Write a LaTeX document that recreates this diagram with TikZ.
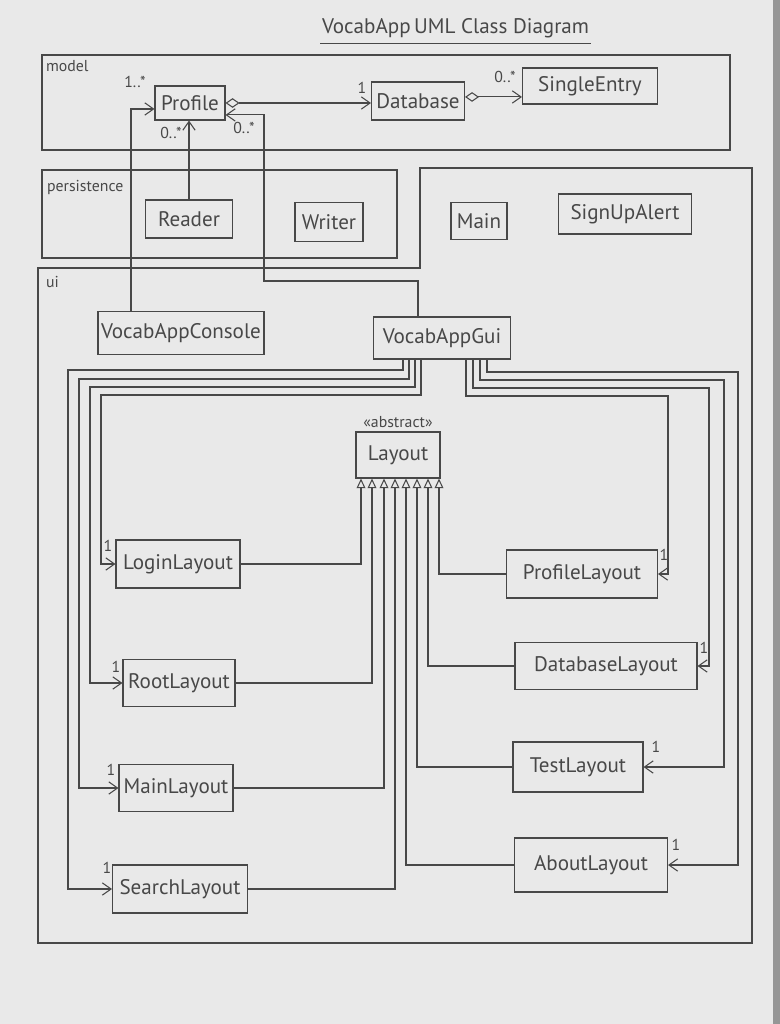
\documentclass[tikz,border=0pt]{standalone}
\usepackage{fontspec}
\setmainfont{PT Sans}
\usetikzlibrary{arrows.meta}
\definecolor{paper}{RGB}{233,233,233}
\definecolor{pencil}{RGB}{72,72,72}
\definecolor{tabletop}{RGB}{150,150,150}
\begin{document}
\begin{tikzpicture}[x=0.02cm,y=-0.02cm,
  pen/.style={draw=pencil, line width=0.6pt},
  cls/.style={pen, inner sep=1pt, text=pencil, font=\fontsize{12}{14}\selectfont},
  ttl/.style={text=pencil, font=\fontsize{12}{14}\selectfont, inner sep=1pt, anchor=west},
  pkglabel/.style={text=pencil, font=\fontsize{9}{10}\selectfont, anchor=north west, inner sep=1pt},
  mult/.style={text=pencil, font=\fontsize{9}{10}\selectfont, inner sep=1pt},
  assoc/.style={pen, -{Straight Barb[length=5pt,width=7pt]}},
  aggr/.style={pen, {Diamond[open,length=8pt,width=5.5pt]}-{Straight Barb[length=5pt,width=7pt]}},
  gen/.style={pen, -{Triangle[open,length=5.5pt,width=5pt]}},
]
% sheet of paper on the table
\fill[paper] (0,0) rectangle (780,1024);
\fill[tabletop] (773,0) rectangle (780,1024);
\useasboundingbox (0,0) rectangle (780,1024);

% title
\node[ttl] (ttlA) at (320,28) {VocabApp};
\node[ttl] (ttlB) at (412,28) {UML Class Diagram};
\draw[pen] ([yshift=-2pt]ttlA.south west) -- ([yshift=-2pt]ttlA.south east);
\draw[pen] ([yshift=-2pt]ttlB.south west) -- ([yshift=-2pt]ttlB.south east);

% packages
\draw[pen] (42,55) rectangle (730,150);
\node[pkglabel] (lblmodel) at (44,58) {model};
\draw[pen] (42,170) rectangle (397,258);
\node[pkglabel] (lblpers) at (45,178) {persistence};
\draw[pen] (38,268) -- (420,268) -- (420,168) -- (752,168) -- (752,943) -- (38,943) -- cycle;
\node[pkglabel] (lblui) at (44,274) {ui};

% model
\node[cls, minimum width=1.4cm, minimum height=0.68cm] (profile) at (190,103) {Profile};
\node[cls, minimum width=1.86cm, minimum height=0.76cm] (database) at (418,101) {Database};
\node[cls, minimum width=2.7cm, minimum height=0.72cm] (singleentry) at (590,86) {SingleEntry};

% persistence
\node[cls, minimum width=1.74cm, minimum height=0.76cm] (reader) at (189,219) {Reader};
\node[cls, minimum width=1.36cm, minimum height=0.78cm] (writer) at (329,222) {Writer};

% ui
\node[cls, minimum width=1.12cm, minimum height=0.74cm] (mainc) at (479,221) {Main};
\node[cls, minimum width=2.66cm, minimum height=0.8cm] (signup) at (625,214) {SignUpAlert};
\node[cls, minimum width=3.32cm, minimum height=0.86cm] (console) at (181,333) {VocabAppConsole};
\node[cls, minimum width=2.74cm, minimum height=0.84cm] (gui) at (442,338) {VocabAppGui};
\node[cls, minimum width=1.68cm, minimum height=0.92cm] (layout) at (398,455) {Layout};
\node[mult, anchor=south] (stereo) at ([yshift=1pt]layout.north) {«abstract»};

\node[cls, minimum width=2.48cm, minimum height=0.96cm] (login) at (178,564) {LoginLayout};
\node[cls, minimum width=2.24cm, minimum height=0.94cm] (root) at (179,683) {RootLayout};
\node[cls, minimum width=2.28cm, minimum height=0.94cm] (mainl) at (176,788) {MainLayout};
\node[cls, minimum width=2.7cm, minimum height=0.96cm] (search) at (180,889) {SearchLayout};
\node[cls, minimum width=3.02cm, minimum height=0.96cm] (profilel) at (582,574) {ProfileLayout};
\node[cls, minimum width=3.64cm, minimum height=0.94cm] (dbl) at (606,666) {DatabaseLayout};
\node[cls, minimum width=2.6cm, minimum height=1.0cm] (testl) at (578,767) {TestLayout};
\node[cls, minimum width=3.06cm, minimum height=1.08cm] (aboutl) at (591,865) {AboutLayout};

% model associations
\draw[assoc] (131,0 |- console.north) |- ([yshift=-3.4pt]profile.west);
\draw[assoc] (reader.north) -- (reader.north |- profile.south);
\draw[assoc] (418,0 |- gui.north) -- (418,281) -- (264,281) |- ([yshift=-6.8pt]profile.east);
\draw[aggr] (profile.east) -- (profile.east -| database.west);
\coordinate (dbout) at ([yshift=2.3pt]database.east);
\draw[aggr] (dbout) -- (dbout -| singleentry.west);

\node[mult] (m1) at (135,82) {1..*};
\node[mult] (m2) at (171,133) {0..*};
\node[mult] (m3) at (244,128) {0..*};
\node[mult] (m4) at (362,88) {1};
\node[mult] (m5) at (505,77) {0..*};

% generalisations to Layout
\draw[gen] (login.east) -| (361,0 |- layout.south);
\draw[gen] (root.east) -| (372,0 |- layout.south);
\draw[gen] (mainl.east) -| (384,0 |- layout.south);
\draw[gen] (search.east) -| (395,0 |- layout.south);
\draw[gen] (aboutl.west) -| (406,0 |- layout.south);
\draw[gen] (testl.west) -| (417,0 |- layout.south);
\draw[gen] (dbl.west) -| (428,0 |- layout.south);
\draw[gen] (profilel.west) -| (439,0 |- layout.south);

% VocabAppGui owns one of each layout
\draw[assoc] (403,0 |- gui.south) |- (68,370) |- (search.west);
\draw[assoc] (409,0 |- gui.south) |- (79,379) |- (mainl.west);
\draw[assoc] (415,0 |- gui.south) |- (90,387) |- (root.west);
\draw[assoc] (421,0 |- gui.south) |- (101,395) |- (login.west);
\draw[assoc] (487,0 |- gui.south) |- (738,372) |- (aboutl.east);
\draw[assoc] (480,0 |- gui.south) |- (724,380) |- (testl.east);
\draw[assoc] (473,0 |- gui.south) |- (709,388) |- (dbl.east);
\draw[assoc] (466,0 |- gui.south) |- (668,396) |- (profilel.east);

\node[mult] (l1) at (108,546) {1};
\node[mult] (l2) at (116,667) {1};
\node[mult] (l3) at (111,770) {1};
\node[mult] (l4) at (107,868) {1};
\node[mult] (r1) at (664,555) {1};
\node[mult] (r2) at (704,648) {1};
\node[mult] (r3) at (656,747) {1};
\node[mult] (r4) at (676,845) {1};
\end{tikzpicture}
\end{document}
